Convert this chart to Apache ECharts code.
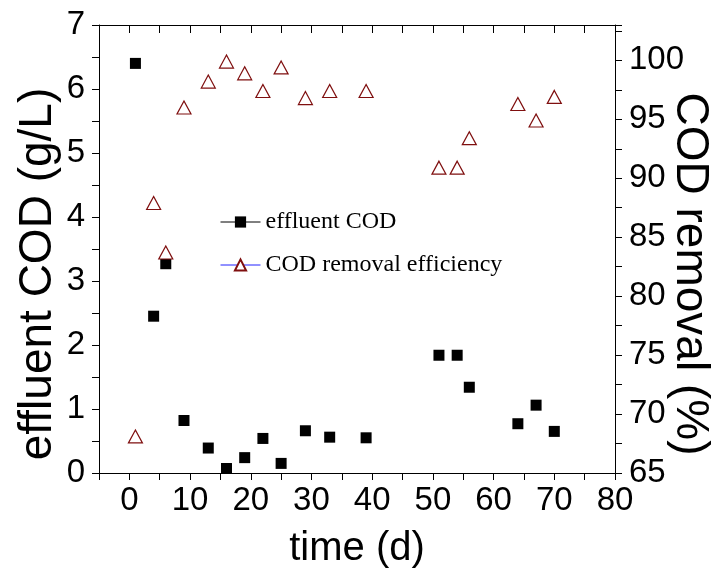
<!DOCTYPE html>
<html>
<head>
<meta charset="utf-8">
<script src="https://cdn.jsdelivr.net/npm/echarts@6/dist/echarts.min.js"></script>
<style>
html,body{margin:0;padding:0;background:#fff;}
#chart{width:713px;height:574px;}
</style>
</head>
<body>
<div id="chart"></div>
<script>
// Data
const days = [1, 4, 6, 9, 13, 16, 19, 22, 25, 29, 33, 39, 51, 54, 56, 64, 67, 70];
const effluentCOD = [6.40, 2.45, 3.27, 0.82, 0.39, 0.07, 0.24, 0.54, 0.15, 0.66, 0.56, 0.55, 1.84, 1.84, 1.34, 0.77, 1.06, 0.65];
const removalEff = [68.1, 87.9, 83.7, 96.0, 98.2, 99.9, 98.9, 97.4, 99.4, 96.8, 97.4, 97.4, 90.9, 90.9, 93.4, 96.3, 94.9, 96.9];
const seriesNames = ['effluent COD', 'COD removal efficiency'];
const xName = 'time (d)';
const yLeftName = 'effluent COD (g/L)';
const yRightName = 'COD removal (%)';

const tickFont = { fontFamily: '"Liberation Sans", Arial, sans-serif', fontSize: 33, color: '#000' };
const nameFont = { fontFamily: '"Liberation Sans", Arial, sans-serif', color: '#000' };
const axisLine = { show: true, onZero: false, lineStyle: { color: '#000', width: 1 } };

const chart = echarts.init(document.getElementById('chart'), null, { renderer: 'canvas' });
chart.setOption({
  animation: false,
  backgroundColor: '#fff',
  grid: { left: 99, right: 98, top: 25, bottom: 101, containLabel: false, outerBoundsMode: 'none' },
  legend: {
    orient: 'vertical',
    left: 220,
    top: 210,
    padding: 0,
    itemWidth: 40,
    itemHeight: 14,
    itemGap: 19,
    textStyle: { fontFamily: '"Liberation Serif", "Times New Roman", serif', fontSize: 24, color: '#000' },
    data: [
      { name: seriesNames[0], lineStyle: { color: '#000', width: 1, opacity: 1 } },
      { name: seriesNames[1], lineStyle: { color: '#2222ff', width: 1, opacity: 1 } }
    ]
  },
  xAxis: [
    {
      type: 'value', position: 'bottom', min: -5, max: 80, interval: 5,
      name: xName, nameLocation: 'middle', nameGap: 56, nameMoveOverlap: false,
      nameTextStyle: Object.assign({ fontSize: 40 }, nameFont),
      axisLine: axisLine,
      axisTick: { show: true, inside: false, length: 7, lineStyle: { color: '#000' } },
      axisLabel: Object.assign({ margin: 11, formatter: v => (v >= 0 && v % 10 === 0) ? String(v) : '' }, tickFont),
      splitLine: { show: false }
    },
    {
      type: 'value', position: 'top', min: -5, max: 80, interval: 5,
      axisLine: axisLine,
      axisTick: { show: true, inside: true, length: 8, lineStyle: { color: '#000' } },
      axisLabel: { show: false },
      splitLine: { show: false }
    }
  ],
  yAxis: [
    {
      type: 'value', position: 'left', min: 0, max: 7, interval: 0.5,
      name: yLeftName, nameLocation: 'middle', nameGap: 38, nameRotate: 90, nameMoveOverlap: false,
      nameTextStyle: Object.assign({ fontSize: 46, padding: [0, 50, 0, 0] }, nameFont),
      axisLine: axisLine,
      axisTick: { show: true, inside: false, length: 7, lineStyle: { color: '#000' } },
      axisLabel: Object.assign({ margin: 14, formatter: v => (Math.abs(v - Math.round(v)) < 1e-9) ? String(Math.round(v)) : '' }, tickFont),
      splitLine: { show: false }
    },
    {
      type: 'value', position: 'right', min: 65, max: 103, interval: 2.5,
      name: yRightName, nameLocation: 'middle', nameGap: 52, nameRotate: -90, nameMoveOverlap: false,
      nameTextStyle: Object.assign({ fontSize: 46, padding: [0, 0, 0, 50] }, nameFont),
      axisLine: axisLine,
      axisTick: { show: true, inside: false, length: 7, lineStyle: { color: '#000' } },
      axisLabel: Object.assign({ margin: 14, formatter: v => (Math.abs(v % 5) < 1e-9) ? String(v) : '' }, tickFont),
      splitLine: { show: false }
    }
  ],
  series: [
    {
      name: seriesNames[0], type: 'line', xAxisIndex: 0, yAxisIndex: 0,
      data: days.map((d, i) => [d, effluentCOD[i]]),
      symbol: 'rect', symbolSize: 11,
      lineStyle: { opacity: 0, color: '#000' },
      itemStyle: { color: '#000' },
      z: 3
    },
    {
      name: seriesNames[1], type: 'line', xAxisIndex: 0, yAxisIndex: 1,
      data: days.map((d, i) => [d, removalEff[i]]),
      symbol: 'triangle', symbolSize: [14, 13],
      lineStyle: { opacity: 0, color: '#2222ff' },
      itemStyle: { color: '#fff', borderColor: '#7f0f0f', borderWidth: 1.2 },
      z: 4
    }
  ]
});
</script>
</body>
</html>
